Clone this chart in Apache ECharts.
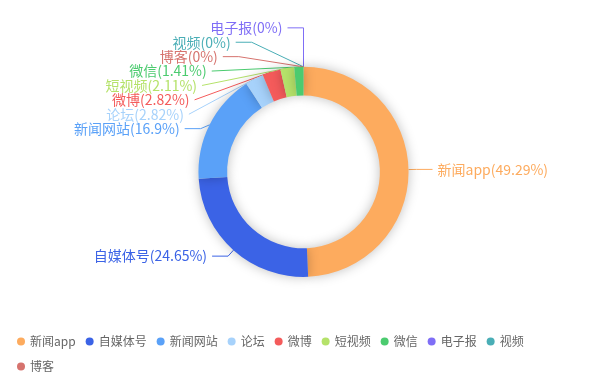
<!DOCTYPE html>
<html>
<head>
<meta charset="utf-8">
<script src="https://cdn.jsdelivr.net/npm/echarts@6/dist/echarts.min.js"></script>
<style>html,body{margin:0;padding:0;background:#fff;}#c{width:607px;height:382px;}</style>
</head>
<body>
<div id="c"></div>
<script>
const categories = ['新闻app','自媒体号','新闻网站','论坛','微博','短视频','微信','电子报','视频','博客'];
const values = [70,35,24,4,4,3,2,0,0,0];
const colors = ['#fdab5e','#3b63e6','#5aa1f8','#a7d2fb','#f45b5b','#b5e26a','#4bcb6f','#7f6ef6','#4aaeb6','#d6736e'];

const lineLen = {'电子报': 39, '视频': 25, '博客': 11};

const chart = echarts.init(document.getElementById('c'));
chart.setOption({
  color: colors,
  textStyle: {fontFamily: '"Noto Sans CJK SC", "Noto Sans", sans-serif'},
  legend: {
    bottom: 3,
    left: 12,
    width: 530,
    icon: 'circle',
    itemWidth: 8,
    itemHeight: 8,
    itemGap: 10,
    textStyle: {fontSize: 12, color: '#666', lineHeight: 15},
    data: categories
  },
  series: [{
    type: 'pie',
    center: ['50%','45%'],
    radius: ['40%','55%'],
    itemStyle: {shadowBlur: 12, shadowColor: 'rgba(0,0,0,0.25)'},
    label: {formatter: '{b}({d}%)', fontSize: 14, minMargin: 0.4},
    labelLine: {length: 8, length2: 16},
    data: categories.map((n,i)=>{
      const item = {name:n, value:values[i], label:{color:colors[i]}};
      if (lineLen[n]) item.labelLine = {length: lineLen[n]};
      return item;
    })
  }]
});
</script>
</body>
</html>
